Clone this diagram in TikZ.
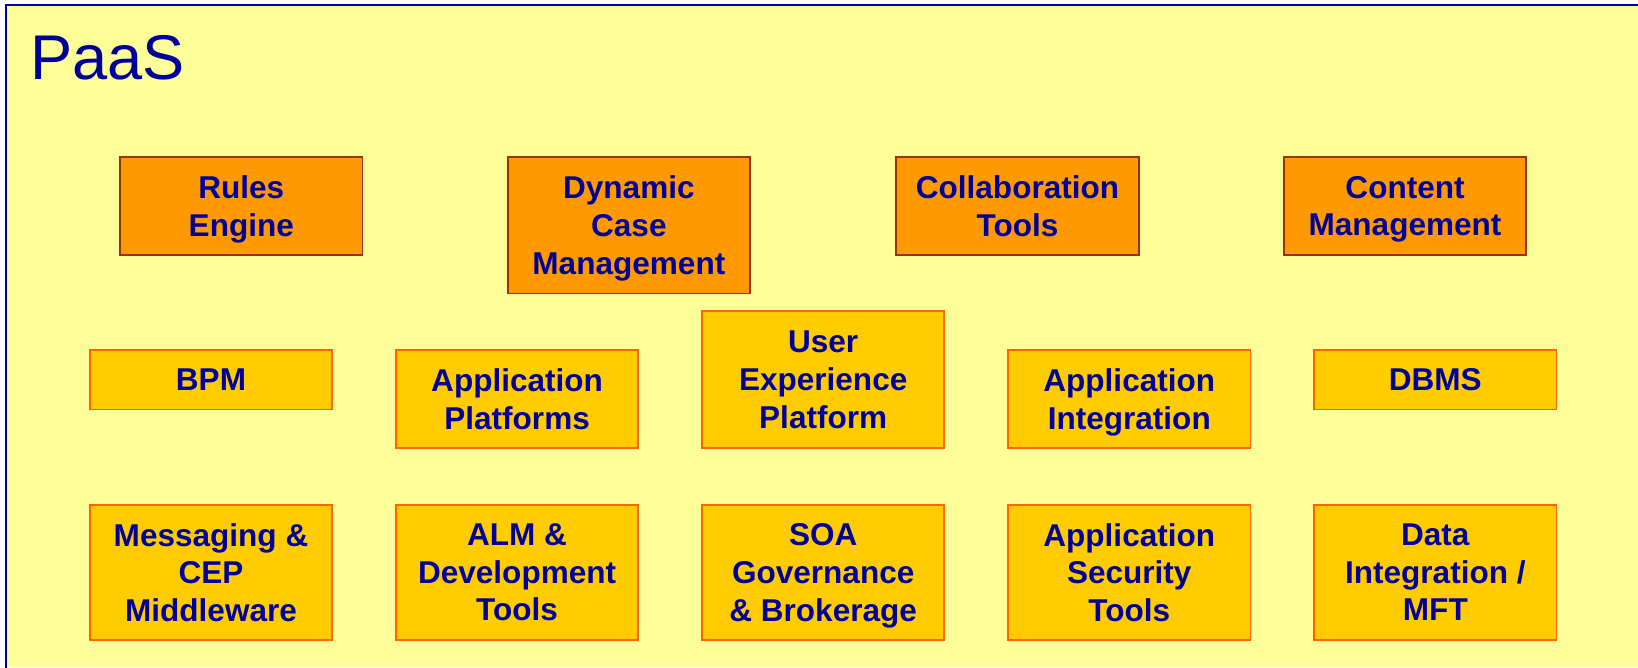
\documentclass[tikz,border=0pt]{standalone}
\usepackage{fontspec}
\setmainfont{Liberation Sans}
\definecolor{bgyellow}{HTML}{FFFF99}
\definecolor{frameblue}{HTML}{000099}
\definecolor{txtblue}{HTML}{000099}
\definecolor{orfill}{HTML}{FF9900}
\definecolor{ordraw}{HTML}{993300}
\definecolor{yefill}{HTML}{FFCC00}
\definecolor{yedraw}{HTML}{FF6600}
\tikzset{
  box/.style={draw, line width=1.8pt, inner sep=0pt, text=txtblue, align=center,
    font=\fontsize{30.2}{36}\selectfont\bfseries, anchor=center, text depth=-3pt},
  orbox/.style={box, fill=orfill, draw=ordraw},
  yebox/.style={box, fill=yefill, draw=yedraw},
}
\begin{document}
\begin{tikzpicture}[x=1pt,y=-1pt]
\useasboundingbox (0,0) rectangle (1568,638.5);
\fill[white] (0,0) rectangle (1568,638.5);
\fill[bgyellow] (6,5) rectangle (1568,638.5);
\draw[frameblue, line width=2.2pt] (6,640) -- (6,5) -- (1570,5);
\node[anchor=base west, text=frameblue, font=\fontsize{60.5}{60.5}\selectfont, inner sep=0pt] (title) at (29,76) {PaaS};
% row 1
\node[orbox, minimum width=232pt, minimum height=94pt] (r1a) at (231,197) {Rules\\Engine};
\node[orbox, minimum width=232pt, minimum height=131pt] (r1b) at (602,215.5) {Dynamic\\Case\\Management};
\node[orbox, minimum width=232pt, minimum height=94pt] (r1c) at (974,197) {Collaboration\\Tools};
\node[orbox, minimum width=232pt, minimum height=94pt] (r1d) at (1345,197) {Content\\Management};
% row 2
\node[yebox, minimum width=232pt, minimum height=57pt] (r2a) at (202,363.5) {BPM};
\node[yebox, minimum width=232pt, minimum height=94pt] (r2b) at (495,382) {Application\\Platforms};
\node[yebox, minimum width=232pt, minimum height=131pt] (r2c) at (788,363.5) {User\\Experience\\Platform};
\node[yebox, minimum width=232pt, minimum height=94pt] (r2d) at (1081,382) {Application\\Integration};
\node[yebox, minimum width=232pt, minimum height=57pt] (r2e) at (1374,363.5) {DBMS};
% row 3
\node[yebox, minimum width=232pt, minimum height=130pt] (r3a) at (202,548) {Messaging \&\\CEP\\Middleware};
\node[yebox, minimum width=232pt, minimum height=130pt] (r3b) at (495,548) {ALM \&\\Development\\Tools};
\node[yebox, minimum width=232pt, minimum height=130pt] (r3c) at (788,548) {SOA\\Governance\\\& Brokerage};
\node[yebox, minimum width=232pt, minimum height=130pt] (r3d) at (1081,548) {Application\\Security\\Tools};
\node[yebox, minimum width=232pt, minimum height=130pt] (r3e) at (1374,548) {Data\\Integration /\\MFT};
\end{tikzpicture}
\end{document}
